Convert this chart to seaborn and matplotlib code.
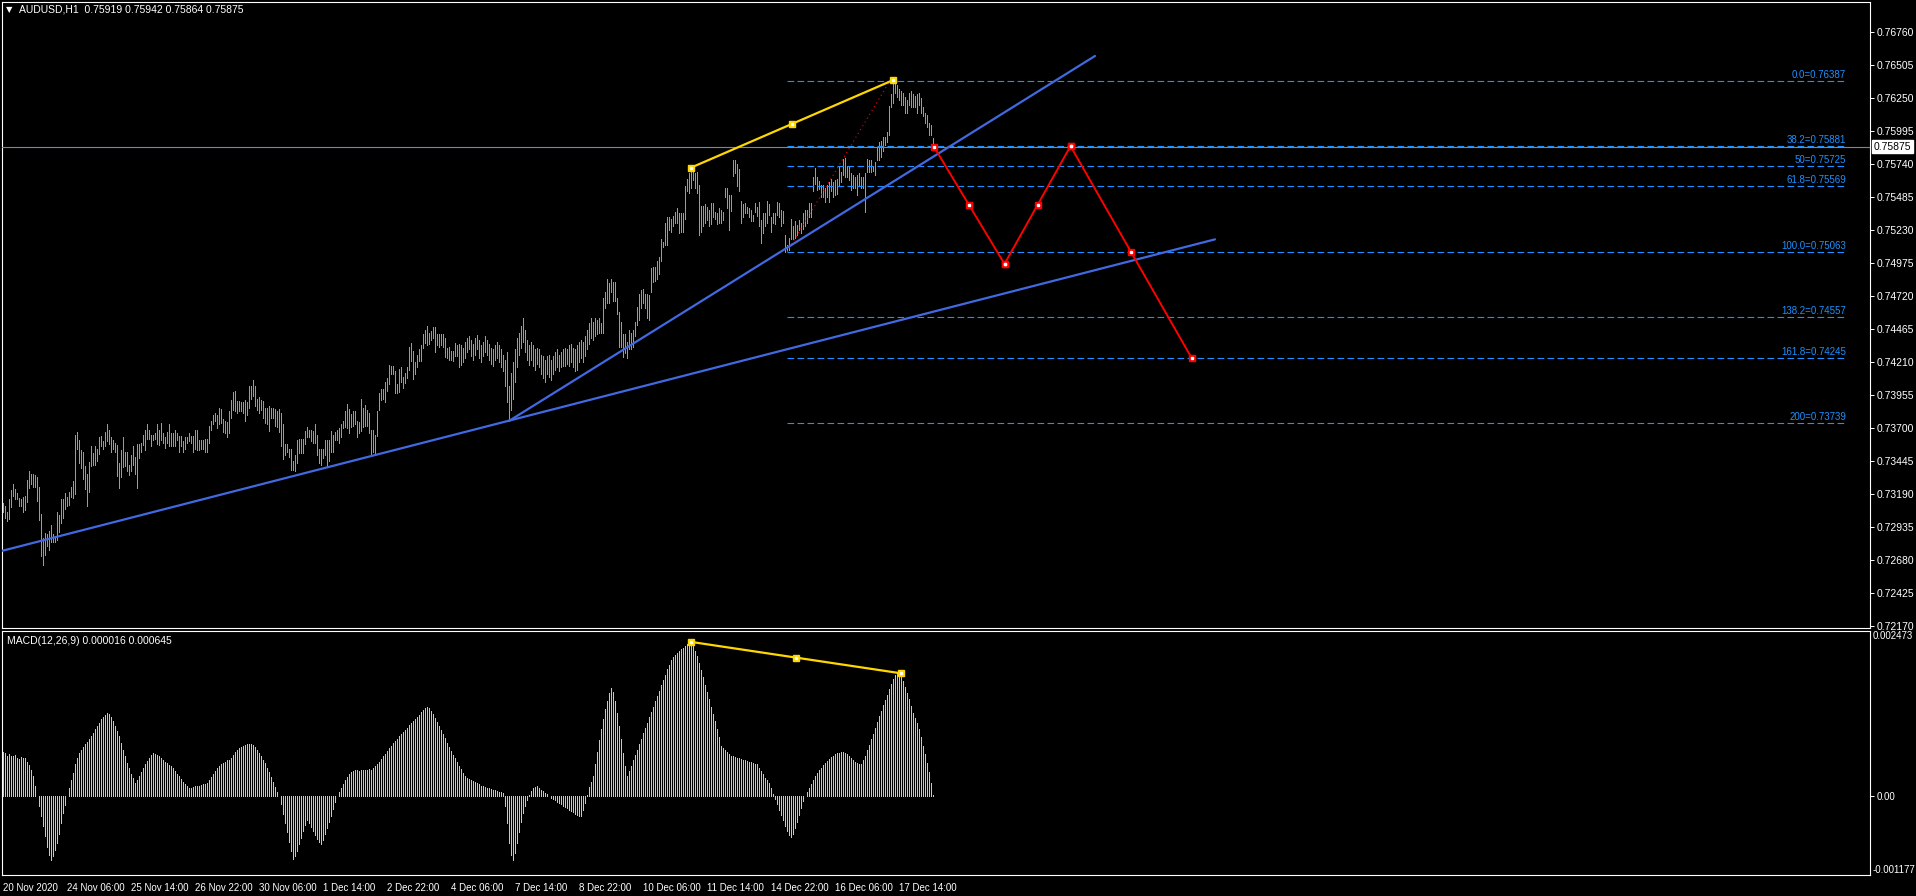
import numpy as np
import pandas as pd
import matplotlib
matplotlib.use('Agg')
import matplotlib.pyplot as plt
import matplotlib.transforms as mtransforms
import seaborn as sns

# dark MT4-like look
sns.set_style('dark', {'axes.facecolor': 'black', 'figure.facecolor': 'black',
                       'axes.edgecolor': 'white', 'axes.grid': False,
                       'text.color': 'white', 'xtick.color': 'white', 'ytick.color': 'white'})
plt.rcParams['font.family'] = ['Liberation Sans', 'DejaVu Sans']

# ---------------- data ----------------
# AUDUSD H1 bars, high / low in pips (0.0001)
high_pips = [
    7312, 7310, 7305, 7315, 7322, 7327, 7323, 7320, 7316, 7315,
    7317, 7318, 7330, 7337, 7335, 7335, 7334, 7332, 7325, 7304,
    7285, 7289, 7288, 7291, 7295, 7288, 7287, 7305, 7303, 7315,
    7315, 7320, 7317, 7321, 7325, 7329, 7365, 7367, 7361, 7353,
    7352, 7341, 7335, 7344, 7356, 7351, 7356, 7354, 7363, 7364,
    7360, 7367, 7373, 7369, 7363, 7361, 7359, 7357, 7343, 7353,
    7363, 7352, 7352, 7342, 7349, 7356, 7348, 7358, 7358, 7359,
    7365, 7369, 7373, 7369, 7365, 7365, 7366, 7373, 7369, 7374,
    7366, 7363, 7367, 7373, 7366, 7366, 7369, 7366, 7364, 7364,
    7360, 7363, 7363, 7366, 7364, 7364, 7369, 7369, 7361, 7361,
    7361, 7362, 7362, 7372, 7376, 7380, 7382, 7380, 7386, 7385,
    7377, 7376, 7375, 7383, 7392, 7398, 7399, 7391, 7391, 7390,
    7390, 7392, 7390, 7403, 7403, 7407, 7403, 7393, 7394, 7392,
    7391, 7386, 7386, 7387, 7386, 7386, 7385, 7383, 7385, 7382,
    7373, 7358, 7358, 7354, 7354, 7345, 7349, 7361, 7362, 7362,
    7362, 7368, 7371, 7369, 7369, 7368, 7373, 7365, 7354, 7354,
    7354, 7361, 7361, 7361, 7368, 7365, 7367, 7369, 7370, 7373,
    7376, 7383, 7389, 7385, 7381, 7383, 7383, 7376, 7375, 7393,
    7386, 7388, 7384, 7382, 7369, 7369, 7365, 7383, 7397, 7400,
    7400, 7406, 7409, 7419, 7418, 7418, 7414, 7404, 7416, 7417,
    7410, 7413, 7417, 7433, 7436, 7430, 7421, 7427, 7431, 7434,
    7443, 7446, 7449, 7444, 7445, 7448, 7448, 7443, 7443, 7443,
    7443, 7440, 7432, 7433, 7430, 7430, 7436, 7434, 7435, 7434,
    7432, 7437, 7440, 7441, 7438, 7435, 7440, 7442, 7438, 7434,
    7437, 7441, 7438, 7435, 7432, 7431, 7434, 7437, 7434, 7431,
    7427, 7423, 7429, 7403, 7413, 7421, 7431, 7440, 7444, 7449,
    7455, 7446, 7438, 7434, 7437, 7434, 7431, 7432, 7431, 7427,
    7426, 7423, 7426, 7427, 7423, 7426, 7429, 7431, 7427, 7429,
    7431, 7432, 7431, 7434, 7435, 7432, 7431, 7434, 7437, 7438,
    7437, 7441, 7446, 7451, 7455, 7452, 7455, 7454, 7455, 7451,
    7471, 7475, 7485, 7482, 7485, 7483, 7483, 7471, 7460, 7452,
    7443, 7443, 7437, 7446, 7444, 7446, 7452, 7464, 7474, 7477,
    7478, 7474, 7474, 7473, 7494, 7495, 7495, 7499, 7502, 7516,
    7514, 7529, 7533, 7533, 7532, 7534, 7537, 7540, 7536, 7536,
    7536, 7557, 7563, 7567, 7571, 7570, 7567, 7568, 7558, 7542,
    7542, 7543, 7541, 7539, 7544, 7544, 7537, 7536, 7540, 7539,
    7537, 7556, 7556, 7550, 7550, 7577, 7577, 7574, 7570, 7546,
    7543, 7544, 7541, 7540, 7539, 7535, 7544, 7541, 7545, 7531,
    7536, 7536, 7546, 7543, 7533, 7536, 7536, 7545, 7544, 7539,
    7538, 7519, 7512, 7517, 7532, 7526, 7530, 7527, 7531, 7529,
    7536, 7539, 7539, 7544, 7544, 7564, 7571, 7564, 7561, 7558,
    7558, 7556, 7558, 7560, 7563, 7560, 7562, 7563, 7572, 7568,
    7578, 7579, 7573, 7572, 7567, 7566, 7564, 7566, 7567, 7564,
    7564, 7567, 7578, 7577, 7577, 7573, 7576, 7587, 7591, 7592,
    7595, 7595, 7599, 7619, 7628, 7639, 7637, 7635, 7632, 7631,
    7629, 7626, 7624, 7629, 7631, 7628, 7627, 7628, 7629, 7625,
    7618, 7614, 7612, 7606, 7604, 7594,
]
low_pips = [
    7305, 7301, 7298, 7300, 7309, 7318, 7315, 7315, 7310, 7310,
    7305, 7307, 7313, 7324, 7327, 7325, 7325, 7314, 7299, 7271,
    7264, 7272, 7279, 7276, 7282, 7282, 7282, 7284, 7290, 7297,
    7301, 7308, 7310, 7311, 7317, 7316, 7319, 7354, 7343, 7339,
    7331, 7323, 7310, 7321, 7341, 7342, 7342, 7345, 7350, 7356,
    7354, 7356, 7360, 7358, 7352, 7354, 7352, 7333, 7324, 7332,
    7340, 7341, 7337, 7334, 7337, 7342, 7335, 7324, 7347, 7352,
    7357, 7353, 7362, 7362, 7356, 7361, 7362, 7358, 7357, 7361,
    7359, 7355, 7359, 7356, 7356, 7356, 7356, 7361, 7352, 7356,
    7352, 7354, 7359, 7360, 7359, 7352, 7354, 7353, 7353, 7354,
    7354, 7352, 7352, 7359, 7369, 7373, 7376, 7370, 7373, 7374,
    7367, 7366, 7363, 7366, 7378, 7384, 7383, 7382, 7383, 7383,
    7382, 7376, 7380, 7386, 7393, 7395, 7387, 7384, 7382, 7384,
    7378, 7374, 7373, 7368, 7378, 7378, 7372, 7371, 7367, 7356,
    7346, 7349, 7352, 7348, 7338, 7338, 7337, 7343, 7351, 7351,
    7351, 7358, 7363, 7363, 7360, 7359, 7359, 7349, 7343, 7342,
    7347, 7349, 7340, 7345, 7352, 7352, 7361, 7361, 7359, 7363,
    7370, 7371, 7370, 7366, 7371, 7372, 7373, 7363, 7366, 7368,
    7371, 7372, 7372, 7366, 7350, 7352, 7351, 7364, 7384, 7392,
    7393, 7390, 7399, 7404, 7412, 7412, 7397, 7397, 7398, 7406,
    7401, 7405, 7409, 7415, 7422, 7408, 7412, 7417, 7422, 7422,
    7432, 7436, 7434, 7435, 7438, 7440, 7429, 7434, 7433, 7434,
    7433, 7425, 7424, 7423, 7423, 7422, 7426, 7426, 7417, 7419,
    7421, 7424, 7429, 7431, 7426, 7423, 7427, 7431, 7424, 7421,
    7426, 7429, 7427, 7423, 7420, 7418, 7423, 7424, 7421, 7417,
    7414, 7403, 7390, 7376, 7384, 7393, 7406, 7417, 7427, 7432,
    7437, 7429, 7423, 7419, 7423, 7418, 7415, 7420, 7417, 7412,
    7409, 7406, 7412, 7410, 7407, 7412, 7415, 7417, 7414, 7417,
    7418, 7418, 7420, 7418, 7421, 7417, 7414, 7415, 7421, 7424,
    7421, 7426, 7431, 7435, 7440, 7438, 7441, 7443, 7444, 7444,
    7444, 7463, 7467, 7467, 7475, 7468, 7468, 7458, 7433, 7433,
    7425, 7428, 7424, 7431, 7431, 7433, 7441, 7450, 7454, 7463,
    7467, 7463, 7455, 7454, 7475, 7483, 7484, 7485, 7489, 7499,
    7510, 7512, 7512, 7523, 7522, 7526, 7529, 7529, 7521, 7522,
    7522, 7532, 7553, 7552, 7556, 7562, 7556, 7552, 7519, 7522,
    7526, 7529, 7531, 7526, 7528, 7533, 7532, 7528, 7529, 7529,
    7531, 7549, 7540, 7523, 7538, 7565, 7567, 7557, 7553, 7529,
    7533, 7536, 7536, 7533, 7530, 7530, 7537, 7534, 7526, 7513,
    7521, 7526, 7529, 7535, 7522, 7529, 7528, 7535, 7533, 7526,
    7529, 7506, 7507, 7508, 7516, 7516, 7517, 7519, 7523, 7521,
    7524, 7526, 7529, 7533, 7533, 7553, 7559, 7554, 7555, 7549,
    7549, 7545, 7549, 7545, 7553, 7549, 7550, 7551, 7557, 7560,
    7566, 7564, 7564, 7562, 7554, 7556, 7556, 7550, 7558, 7556,
    7556, 7537, 7568, 7568, 7568, 7569, 7566, 7577, 7577, 7580,
    7584, 7589, 7591, 7597, 7618, 7621, 7629, 7626, 7624, 7620,
    7620, 7614, 7614, 7620, 7618, 7618, 7618, 7614, 7620, 7614,
    7611, 7606, 7603, 7597, 7597, 7586,
]
# MACD(12,26,9) main histogram, in millionths
macd_micro = [
    670, 650, 610, 640, 600, 600, 620, 580, 560, 590,
    570, 570, 520, 470, 400, 300, 150, 0, -150, -300,
    -450, -600, -760, -880, -950, -900, -800, -700, -560, -400,
    -250, -130, 0, 120, 240, 350, 480, 580, 650, 700,
    740, 780, 820, 860, 900, 950, 1000, 1050, 1100, 1150,
    1190, 1220, 1250, 1230, 1180, 1120, 1050, 980, 900, 800,
    700, 600, 500, 420, 340, 270, 200, 240, 300, 360,
    420, 480, 530, 580, 620, 650, 640, 620, 600, 570,
    550, 520, 500, 470, 450, 420, 380, 340, 300, 260,
    220, 180, 150, 120, 130, 140, 150, 150, 160, 170,
    180, 190, 200, 240, 290, 340, 380, 420, 450, 480,
    500, 520, 540, 550, 580, 620, 660, 690, 720, 740,
    760, 770, 780, 790, 790, 770, 740, 700, 650, 600,
    550, 500, 430, 360, 290, 210, 140, 70, 0, -120,
    -260, -400, -540, -680, -820, -940, -900, -820, -720, -620,
    -520, -430, -350, -400, -460, -520, -580, -640, -690, -710,
    -650, -560, -470, -380, -290, -190, -90, 0, 60, 120,
    180, 240, 290, 330, 360, 380, 400, 390, 380, 390,
    400, 390, 400, 410, 400, 420, 450, 480, 520, 560,
    600, 640, 680, 720, 760, 800, 830, 860, 900, 930,
    960, 990, 1020, 1060, 1100, 1130, 1160, 1190, 1220, 1260,
    1290, 1320, 1340, 1320, 1280, 1230, 1170, 1110, 1050, 990,
    930, 870, 800, 740, 680, 620, 570, 510, 460, 410,
    350, 300, 280, 260, 250, 230, 210, 200, 180, 160,
    150, 140, 130, 120, 110, 100, 90, 80, 70, 60,
    50, -150, -400, -700, -880, -950, -850, -700, -540, -390,
    -250, -150, -60, 20, 80, 120, 140, 150, 130, 100,
    80, 50, 30, 10, -20, -40, -60, -80, -100, -120,
    -140, -160, -180, -200, -220, -240, -260, -280, -290, -300,
    -200, -100, 20, 140, 220, 300, 480, 660, 840, 1000,
    1150, 1300, 1430, 1540, 1620, 1560, 1420, 1250, 1050, 850,
    650, 450, 300, 380, 460, 540, 620, 700, 780, 860,
    940, 1020, 1100, 1180, 1260, 1340, 1420, 1500, 1580, 1660,
    1740, 1820, 1900, 1970, 2040, 2080, 2120, 2150, 2180, 2200,
    2220, 2250, 2280, 2310, 2300, 2250, 2180, 2100, 2000, 1890,
    1780, 1670, 1560, 1450, 1340, 1230, 1120, 1000, 880, 760,
    720, 690, 660, 630, 610, 600, 590, 580, 570, 560,
    550, 540, 530, 520, 510, 500, 490, 480, 430, 380,
    330, 280, 240, 200, 120, 40, -40, -120, -200, -280,
    -360, -440, -520, -580, -610, -560, -470, -380, -280, -170,
    -70, 0, 60, 120, 180, 240, 300, 350, 390, 430,
    470, 500, 530, 560, 590, 610, 630, 645, 655, 665,
    670, 650, 630, 600, 570, 540, 520, 500, 490, 480,
    540, 610, 690, 770, 850, 930, 1020, 1110, 1200, 1280,
    1360, 1440, 1520, 1600, 1680, 1760, 1820, 1860, 1840, 1790,
    1720, 1640, 1550, 1450, 1350, 1250, 1170, 1100, 1000, 880,
    760, 630, 500, 360, 200, 16,
]

time_label_bars = [0, 32, 64, 96, 128, 160, 192, 224, 256, 288, 320, 352, 384, 416, 448]
time_labels = ['20 Nov 2020', '24 Nov 06:00', '25 Nov 14:00', '26 Nov 22:00', '30 Nov 06:00',
               '1 Dec 14:00', '2 Dec 22:00', '4 Dec 06:00', '7 Dec 14:00', '8 Dec 22:00',
               '10 Dec 06:00', '11 Dec 14:00', '14 Dec 22:00', '16 Dec 06:00', '17 Dec 14:00']

price_ticks = [0.76760, 0.76505, 0.76250, 0.75995, 0.75740, 0.75485, 0.75230, 0.74975,
               0.74720, 0.74465, 0.74210, 0.73955, 0.73700, 0.73445, 0.73190, 0.72935,
               0.72680, 0.72425, 0.72170]
price_min, price_max = 0.72157, 0.76994
macd_min, macd_max = -0.001177, 0.002473
bid = 0.75875

fib_names = ['0.0', '38.2', '50', '61.8', '100.0', '138.2', '161.8', '200']
fib_prices = [0.76387, 0.75881, 0.75725, 0.75569, 0.75063, 0.74557, 0.74245, 0.73739]
fib_start_bar, fib_end_bar = 392, 921.5
fib_anchor_bars = [392, 443.5]
fib_anchor_prices = [0.75063, 0.76387]

# drawn objects: (bar, price)
trend_low_bars = [-1.5, 606]
trend_low_prices = [0.72749, 0.75160]
trend_up_bars = [253, 546]
trend_up_prices = [0.73757, 0.76577]
yellow_bars = [344, 445]
yellow_prices = [0.75714, 0.76390]
macd_yellow_bars = [344, 449]
macd_yellow_vals = [0.00231, 0.00184]
zigzag_bars = [465.5, 500.75, 533.75, 594.25]
zigzag_prices = [0.75875, 0.74970, 0.75881, 0.74245]

# ---------------- figure ----------------
W, H = 1916, 896
fig = plt.figure(figsize=(W / 100, H / 100), dpi=100)
ax1 = fig.add_axes([2 / W, 1 - 628 / H, 1868 / W, 626 / H])
ax2 = fig.add_axes([2 / W, 1 - 875 / H, 1868 / W, 244 / H])

bars = pd.DataFrame({'bar': np.arange(len(high_pips)),
                     'high': np.array(high_pips) / 10000,
                     'low': np.array(low_pips) / 10000,
                     'macd': np.array(macd_micro) / 1e6})

GREEN = '#2ee82e'
ax1.vlines(bars['bar'], bars['low'], bars['high'], colors=GREEN, lw=0.72, antialiased=False, zorder=2)

# bid line
ax1.axhline(bid, color='#778899', lw=0.8, zorder=3)

# fibonacci
for name, p in zip(fib_names, fib_prices):
    ax1.plot([fib_start_bar, fib_end_bar], [p, p], color='#1e90ff', lw=0.8,
             linestyle=(0, (6, 3)), zorder=4)
    ax1.annotate(f'{name}={p:.5f}', xy=(fib_end_bar, p), xytext=(0, 1), textcoords='offset pixels',
                 ha='right', va='bottom', color='#1e90ff', fontsize=7, zorder=5)
ax1.plot(fib_anchor_bars, fib_anchor_prices, color='red', lw=0.8, linestyle=(0, (1, 3)), zorder=4)

# trend lines
sns.lineplot(x=trend_low_bars, y=trend_low_prices, ax=ax1, color='#4169e1', lw=1.6, sort=False, zorder=6)
sns.lineplot(x=trend_up_bars, y=trend_up_prices, ax=ax1, color='#4169e1', lw=1.6, sort=False, zorder=6)


def handles(ax, xs, ys, color):
    # MT4 selection squares at both ends and middle
    mx = [xs[0], (xs[0] + xs[1]) / 2, xs[1]]
    my = [ys[0], (ys[0] + ys[1]) / 2, ys[1]]
    ax.plot(mx, my, 's', ms=4.2, color=color, zorder=8)
    ax.plot(mx, my, 's', ms=1.4, color='white', zorder=9)


sns.lineplot(x=yellow_bars, y=yellow_prices, ax=ax1, color='#ffd700', lw=1.6, sort=False, zorder=7)
handles(ax1, yellow_bars, yellow_prices, '#ffd700')

for i in range(len(zigzag_bars) - 1):
    seg_x = zigzag_bars[i:i + 2]
    seg_y = zigzag_prices[i:i + 2]
    sns.lineplot(x=seg_x, y=seg_y, ax=ax1, color='red', lw=1.4, sort=False, zorder=7)
    handles(ax1, seg_x, seg_y, 'red')

ax1.set_xlim(-0.5, 933.5)
ax1.set_ylim(price_min, price_max)
ax1.set_xticks([])
ax1.yaxis.tick_right()
ax1.set_yticks(price_ticks)
ax1.set_yticklabels([f'{t:.5f}' for t in price_ticks])
ax1.tick_params(axis='y', colors='white', labelsize=7.5, length=3, width=0.7, pad=2, direction='out')
ax1.set_xlabel('')
ax1.set_ylabel('')

ax1.annotate(f'{bid:.5f}', xy=(1, bid), xycoords=('axes fraction', 'data'), xytext=(4, 0),
             textcoords='offset pixels', ha='left', va='center', color='black', fontsize=7.5,
             bbox=dict(boxstyle='square,pad=0.15', fc='white', ec='white'), zorder=10,
             annotation_clip=False)

# ---------------- MACD ----------------
ax2.vlines(bars['bar'], 0, bars['macd'], colors='#c8c8c8', lw=0.72, antialiased=False, zorder=2)
sns.lineplot(x=macd_yellow_bars, y=macd_yellow_vals, ax=ax2, color='#ffd700', lw=1.6, sort=False, zorder=7)
handles(ax2, macd_yellow_bars, macd_yellow_vals, '#ffd700')

ax2.set_xlim(-0.5, 933.5)
ax2.set_ylim(macd_min, macd_max)
ax2.yaxis.tick_right()
ax2.set_yticks([0])
ax2.set_yticklabels(['0.00'])
ax2.tick_params(axis='y', colors='white', labelsize=7, length=3, width=0.7, pad=2)
blend = mtransforms.blended_transform_factory(ax2.transAxes, ax2.transData)
ax2.text(1.0015, macd_max, f'{macd_max:.6f}', transform=blend,
         ha='left', va='top', color='white', fontsize=7, clip_on=False)
ax2.text(1.0015, macd_min, f'{macd_min:.6f}', transform=blend,
         ha='left', va='bottom', color='white', fontsize=7, clip_on=False)
ax2.set_xticks(time_label_bars)
ax2.set_xticklabels(time_labels, ha='left')
ax2.tick_params(axis='x', colors='white', labelsize=7, length=4, width=0.7, pad=2)
ax2.set_xlabel('')
ax2.set_ylabel('')

for ax in (ax1, ax2):
    ax.set_facecolor('black')
    for s in ax.spines.values():
        s.set_color('white')
        s.set_linewidth(0.8)

# headers
fig.text(6 / W, 1 - 10 / H, '\u25bc', fontsize=6, color='white', va='center', family=['DejaVu Sans'])
fig.text(19 / W, 1 - 10 / H, 'AUDUSD,H1  0.75919 0.75942 0.75864 0.75875', fontsize=7.5, color='white', va='center')
fig.text(7 / W, 1 - 641 / H, 'MACD(12,26,9) 0.000016 0.000645', fontsize=7.5, color='white', va='center')

fig.savefig('out.png', dpi=100, facecolor='black')
